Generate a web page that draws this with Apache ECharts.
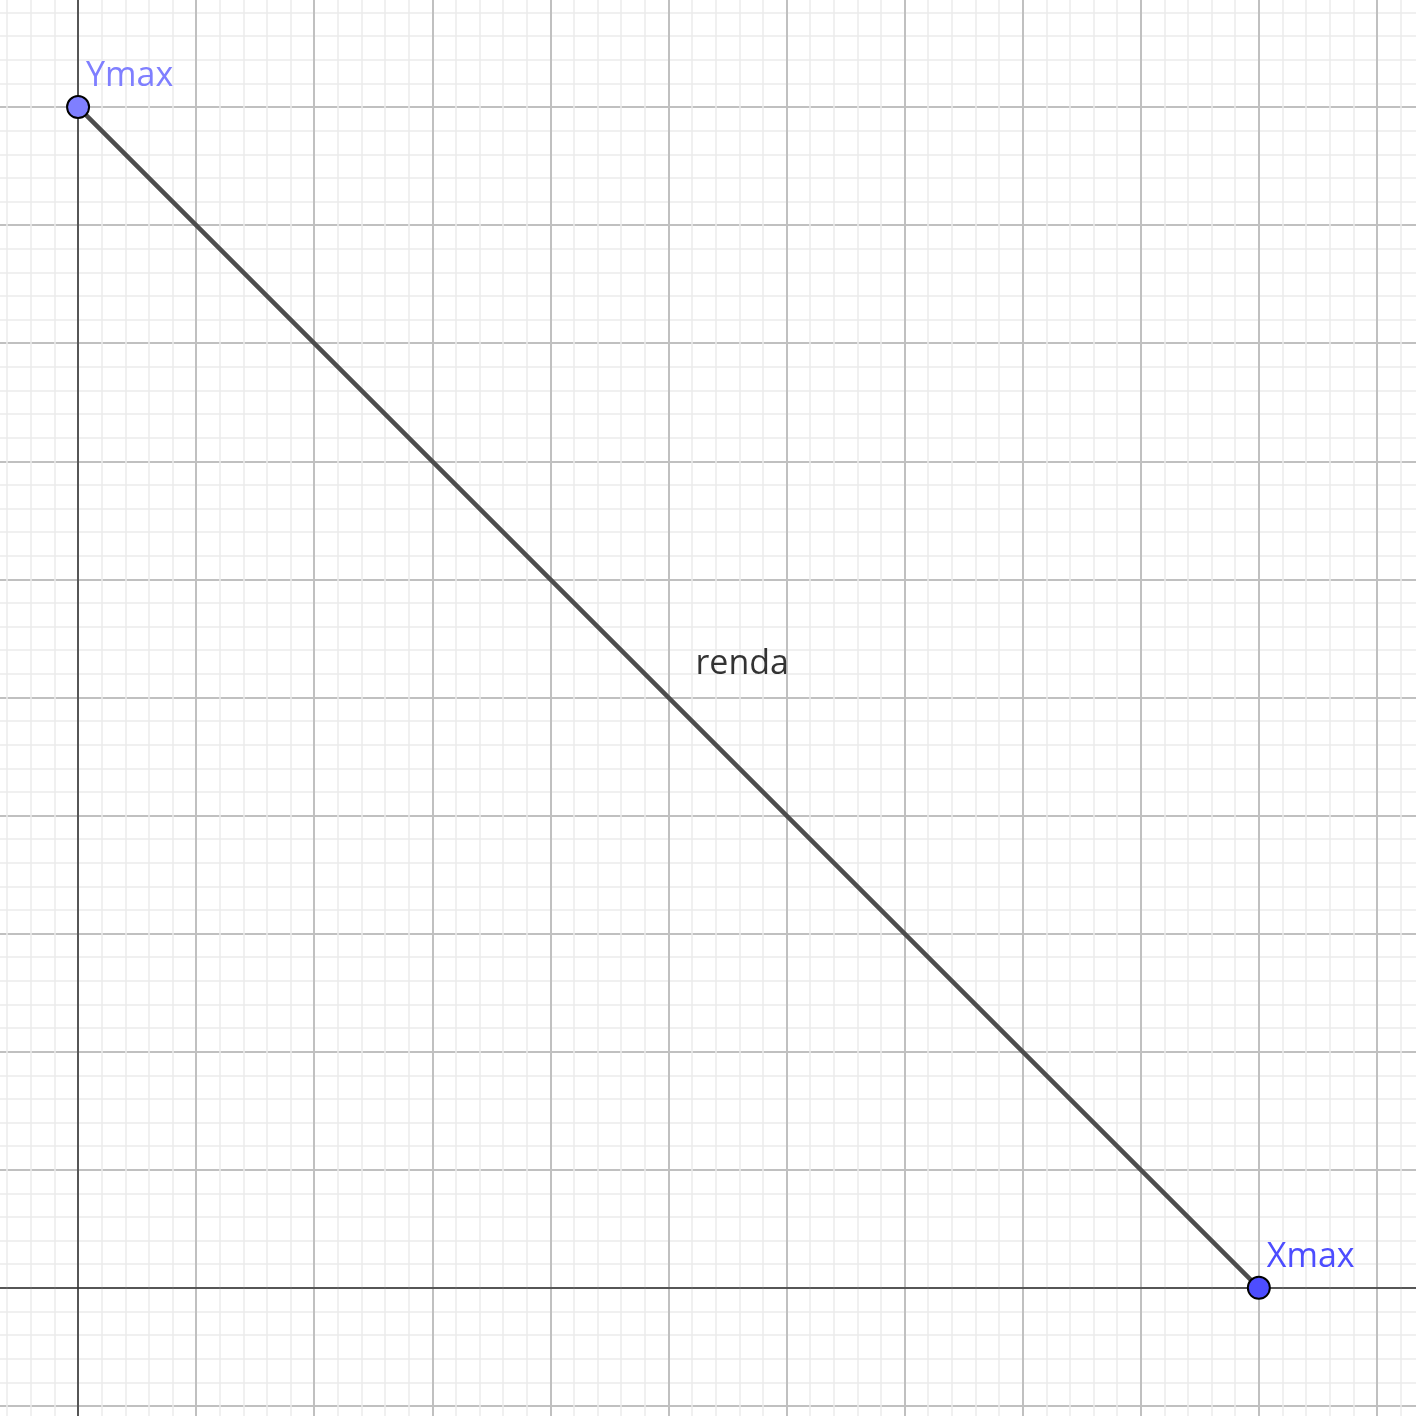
<!DOCTYPE html>
<html><head><meta charset="utf-8">
<script src="https://cdn.jsdelivr.net/npm/echarts@6/dist/echarts.min.js"></script>
<style>html,body{margin:0;padding:0;background:#fff;overflow:hidden;width:1416px;height:1416px;position:relative}
#c{position:absolute;left:-40px;top:-11px;width:1535px;height:1535px}</style>
</head><body><div id="c"></div>
<script>
// data
const segment = [[0, 10], [10, 0]];
const pointNames = ['Ymax', 'Xmax'];
const pointCoords = [[0, 10], [10, 0]];
const pointColors = ['#7f7fff', '#4d4dff'];
const segmentLabel = 'renda';
const segmentLabelAt = [5, 5];
const xRange = [-1, 12];
const yRange = [-2, 11];

const axisCommon = {
  type: 'value', interval: 1,
  axisLabel: { show: false }, axisTick: { show: false },
  axisLine: { show: true, onZero: true, lineStyle: { color: '#333', width: 1.5 } },
  splitLine: { show: true, lineStyle: { color: '#c0c0c0', width: 2 } },
  minorTick: { show: false, splitNumber: 5 },
  minorSplitLine: { show: true, lineStyle: { color: '#ebebeb', width: 1.5 } }
};

const chart = echarts.init(document.getElementById('c'), null, { renderer: 'canvas' });
chart.setOption({
  animation: false,
  grid: { left: 0, right: 0, top: 0, bottom: 0, containLabel: false },
  xAxis: Object.assign({}, axisCommon, { min: xRange[0], max: xRange[1] }),
  yAxis: Object.assign({}, axisCommon, { min: yRange[0], max: yRange[1] }),
  series: [
    { type: 'line', data: segment, symbol: 'none', lineStyle: { color: '#4d4d4d', width: 4.5 }, z: 3 },
    { type: 'scatter', data: [segmentLabelAt], symbolSize: 0,
      label: { show: true, formatter: segmentLabel, position: [27, -50], align: 'left', verticalAlign: 'top',
        fontFamily: 'Open Sans', fontSize: 34, color: '#000' }, z: 4 },
    { type: 'scatter', symbolSize: 22, z: 5,
      data: pointCoords.map((c, i) => ({ value: c, name: pointNames[i],
        itemStyle: { color: pointColors[i], borderColor: '#000', borderWidth: 2, opacity: 1 },
        label: { color: pointColors[i] } })),
      label: { show: true, formatter: '{b}', position: [20, -2], align: 'left', verticalAlign: 'bottom',
        fontFamily: 'Open Sans', fontSize: 34 } }
  ]
});
</script></body></html>
